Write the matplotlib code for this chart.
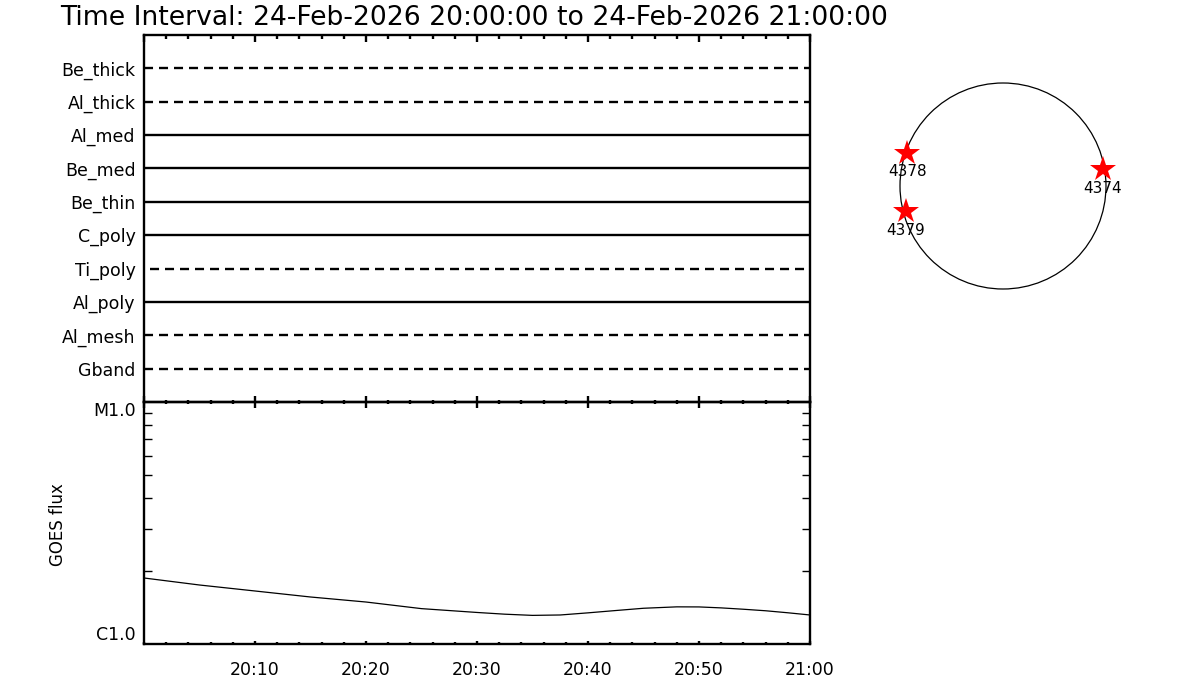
import matplotlib
matplotlib.use("Agg")
import matplotlib.pyplot as plt
import numpy as np
from matplotlib.ticker import FixedLocator, NullFormatter, MultipleLocator
from matplotlib.patches import Circle

plt.rcParams['font.family'] = ['DejaVu Sans']
plt.rcParams['lines.scale_dashes'] = False

title = "Time Interval: 24-Feb-2026 20:00:00 to 24-Feb-2026 21:00:00"

# Filter timeline (bottom to top)
filters = ["Gband", "Al_mesh", "Al_poly", "Ti_poly", "C_poly",
           "Be_thin", "Be_med", "Al_med", "Al_thick", "Be_thick"]
filter_active = [False, False, True, False, True, True, True, True, False, False]
filter_start = [0, 0, 0, 0.5, 0, 0, 0, 0, 0, 0]      # minutes after 20:00
filter_end = [60, 60, 60, 60, 60, 60, 60, 60, 60, 60]

# GOES flux (minutes after 20:00, W/m^2)
goes_t = [0, 5, 10, 15, 20, 25, 30, 32.5, 35, 37.5, 40, 42.5, 45, 48, 50,
          52, 54, 56, 58, 60]
goes_flux = [1.874e-6, 1.753e-6, 1.656e-6, 1.564e-6, 1.491e-6, 1.400e-6,
             1.350e-6, 1.328e-6, 1.313e-6, 1.318e-6, 1.345e-6, 1.375e-6,
             1.405e-6, 1.424e-6, 1.423e-6, 1.410e-6, 1.392e-6, 1.372e-6,
             1.346e-6, 1.318e-6]

time_ticks = [10, 20, 30, 40, 50, 60]
time_labels = ["20:10", "20:20", "20:30", "20:40", "20:50", "21:00"]
flux_ticks = [1e-6, 1e-5]
flux_labels = ["C1.0", "M1.0"]

# Active regions on disk (arcsec)
ar_names = ["4378", "4374", "4379"]
ar_x = [-894, 932, -904]
ar_y = [311, 160, -235]
r_sun = 960

W, H = 1200, 700
PX = 0.72  # points per pixel at 100 dpi
fig = plt.figure(figsize=(12, 7), dpi=100)

def fr(x0, y0, x1, y1):
    return [x0 / W, 1 - y1 / H, (x1 - x0) / W, (y1 - y0) / H]

lw_spine = 1.7
ax2 = fig.add_axes(fr(144, 402, 810, 644))
ax1 = fig.add_axes(fr(144, 35, 810, 402))
ax1.patch.set_alpha(0)
ax1.set_zorder(3)

for ax in (ax1, ax2):
    for s in ax.spines.values():
        s.set_linewidth(lw_spine)
    ax.set_xlim(0, 60)
    ax.xaxis.set_major_locator(MultipleLocator(10))
    ax.xaxis.set_minor_locator(MultipleLocator(2))

# top panel bottom ticks: straddle the shared boundary
ax1.tick_params(axis='x', which='both', direction='inout', top=False, bottom=True,
                width=1.7)
ax1.tick_params(axis='x', which='major', length=12 * PX)
ax1.tick_params(axis='x', which='minor', length=5 * PX)
# top panel top ticks
ax1t = ax1.twiny()
ax1t.set_xlim(0, 60)
ax1t.xaxis.set_major_locator(MultipleLocator(10))
ax1t.xaxis.set_minor_locator(MultipleLocator(2))
ax1t.xaxis.set_major_formatter(NullFormatter())
ax1t.tick_params(axis='x', which='both', direction='in', top=True, width=1.7)
ax1t.tick_params(axis='x', which='major', length=7 * PX)
ax1t.tick_params(axis='x', which='minor', length=3.5 * PX)
for s in ax1t.spines.values():
    s.set_visible(False)

# bottom panel bottom ticks (short)
ax2.tick_params(axis='x', which='both', direction='in', top=False, bottom=True,
                width=1.7)
ax2.tick_params(axis='x', which='major', length=3.5 * PX, pad=12)
ax2.tick_params(axis='x', which='minor', length=1.8 * PX)

# Top panel
ax1.set_ylim(0, 11)
for i, f in enumerate(filters):
    y = i + 1
    ls = '-' if filter_active[i] else (0, (6.5, 4.3))
    ax1.plot([filter_start[i], filter_end[i]], [y, y], color='black',
             lw=1.7, linestyle=ls, solid_capstyle='butt', dash_capstyle='butt')
ax1.set_yticks(range(1, len(filters) + 1))
ax1.set_yticklabels(filters, fontsize=12.5)
ax1.tick_params(axis='y', length=0, pad=6)
ax1.xaxis.set_major_formatter(NullFormatter())

# Bottom panel
ax2.plot(goes_t, goes_flux, color='black', lw=0.9)
ax2.set_yscale('log')
ax2.set_ylim(1e-6, 1e-5)
ax2.yaxis.set_major_locator(FixedLocator(flux_ticks))
ax2.set_yticklabels(flux_labels, fontsize=12.5)
ax2.yaxis.set_minor_locator(FixedLocator([k * 1e-6 for k in range(2, 10)]))
ax2.yaxis.set_minor_formatter(NullFormatter())
ax2.tick_params(axis='y', which='minor', direction='in', left=True, right=True,
                length=8 * PX, width=1.0)
ax2.tick_params(axis='y', which='major', length=0, pad=6)
labs = ax2.get_yticklabels()
labs[0].set_va('bottom')
labs[1].set_va('top')
ax2.set_xticks(time_ticks)
ax2.set_xticklabels(time_labels, fontsize=12.5)
ax2.set_ylabel("GOES flux", fontsize=12)
ax2.yaxis.set_label_coords((67 - 144) / 666, (644 - 525) / 242)

fig.text(60 / W, 1 - 25 / H, title, fontsize=19.2, ha='left', va='baseline')

# Solar disk
ax3 = fig.add_axes(fr(1003 - 130, 186 - 130, 1003 + 130, 186 + 130))
L = 130 / 103 * r_sun
ax3.set_xlim(-L, L)
ax3.set_ylim(-L, L)
ax3.set_aspect('equal')
ax3.axis('off')
ax3.add_patch(Circle((0, 0), r_sun, fill=False, color='black', lw=0.9))
ax3.plot(ar_x, ar_y, linestyle='none', marker='*', color='red',
         markersize=19, markeredgewidth=0)
for n, x, y in zip(ar_names, ar_x, ar_y):
    ax3.text(x, y - 180, n, ha='center', va='center', fontsize=11)

fig.savefig("out.png", dpi=100)
